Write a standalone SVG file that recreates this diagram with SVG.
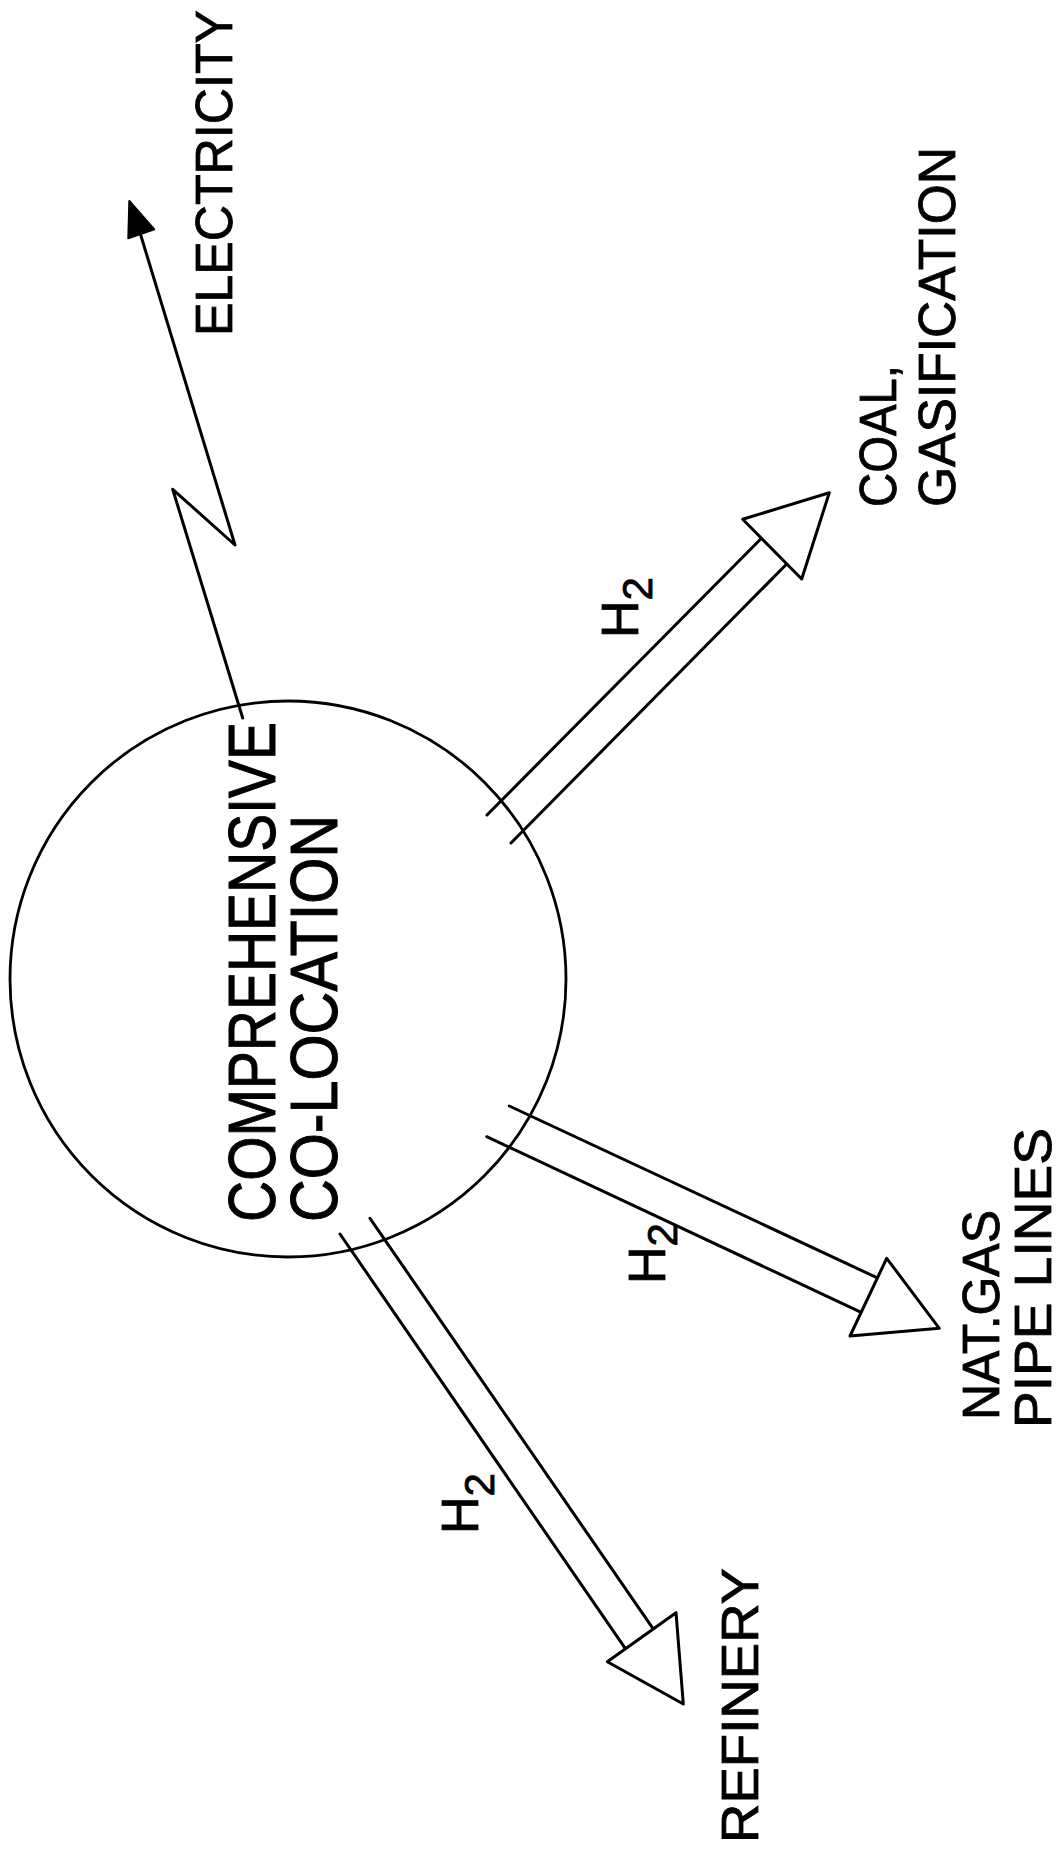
<svg xmlns="http://www.w3.org/2000/svg" width="1062" height="1852" viewBox="0 0 1062 1852">
  <style>
    .ln { fill: none; stroke: #000; stroke-width: 3; stroke-linecap: round; stroke-linejoin: round; }
    .head { fill: #fff; stroke: #000; stroke-width: 3; stroke-linejoin: round; }
    .solid { fill: #000; stroke: #000; stroke-width: 2; stroke-linejoin: round; }
    .lbl { font-family: "Liberation Sans", Arial, sans-serif; font-size: 52px; fill: #000; stroke: #000; stroke-width: 0.8; }
    .big { font-size: 67px; stroke-width: 1; }
    .sub { font-size: 42px; }
  </style>
  <rect width="1062" height="1852" fill="#fff"/>

  <!-- central node -->
  <g id="co-location">
    <circle cx="288" cy="979" r="278" fill="none" stroke="#000" stroke-width="2.8"/>
    <text class="lbl big" transform="translate(275,1222) rotate(-90)" textLength="500" lengthAdjust="spacingAndGlyphs">COMPREHENSIVE</text>
    <text class="lbl big" transform="translate(337,1222) rotate(-90)" textLength="407" lengthAdjust="spacingAndGlyphs">CO-LOCATION</text>
  </g>

  <!-- destinations -->
  <g id="electricity">
    <text class="lbl" style="font-size:51px" transform="translate(232,336) rotate(-90)" textLength="326" lengthAdjust="spacingAndGlyphs">ELECTRICITY</text>
  </g>
  <g id="coal-gasification">
    <text class="lbl" transform="translate(896,507) rotate(-90)" textLength="142" lengthAdjust="spacingAndGlyphs">COAL,</text>
    <text class="lbl" transform="translate(955,507) rotate(-90)" textLength="360" lengthAdjust="spacingAndGlyphs">GASIFICATION</text>
  </g>
  <g id="nat-gas-pipelines">
    <text class="lbl" transform="translate(999,1420) rotate(-90)" textLength="210" lengthAdjust="spacingAndGlyphs">NAT.GAS</text>
    <text class="lbl" transform="translate(1051,1428) rotate(-90)" textLength="300" lengthAdjust="spacingAndGlyphs">PIPE LINES</text>
  </g>
  <g id="refinery">
    <text class="lbl" transform="translate(758,1843) rotate(-90)" textLength="275" lengthAdjust="spacingAndGlyphs">REFINERY</text>
  </g>

  <!-- connectors -->
  <g id="connectors">
    <!-- electricity: zig-zag lightning line with solid head -->
    <g id="to-electricity">
      <polyline class="ln" points="242.7,718 172.7,489.3 235,545 141,236"/>
      <polygon class="solid" points="129.3,201 128.3,238.3 154.3,229.3"/>
    </g>
    <!-- hydrogen pipe to coal gasification -->
    <g id="to-coal">
      <line class="ln" x1="487" y1="815" x2="761.7" y2="538"/>
      <line class="ln" x1="511" y1="843" x2="786.7" y2="564"/>
      <polygon class="head" points="742.7,519.3 829.3,492.7 801.7,579"/>
      <text class="lbl" transform="translate(638,638) rotate(-90)">H<tspan class="sub" dy="14">2</tspan></text>
    </g>
    <!-- hydrogen pipe to natural gas pipelines -->
    <g id="to-natgas">
      <line class="ln" x1="509.3" y1="1106" x2="877.4" y2="1277.9"/>
      <line class="ln" x1="486.7" y1="1136.7" x2="861.2" y2="1312.3"/>
      <polygon class="head" points="886.7,1258.3 939.3,1328.3 850,1336"/>
      <text class="lbl" transform="translate(665,1284) rotate(-90)">H<tspan class="sub" dy="12">2</tspan></text>
    </g>
    <!-- hydrogen pipe to refinery -->
    <g id="to-refinery">
      <line class="ln" x1="340" y1="1234" x2="625.4" y2="1648.7"/>
      <line class="ln" x1="370" y1="1218.3" x2="653.2" y2="1628.9"/>
      <polygon class="head" points="607.3,1661.7 676,1612.7 683.3,1704"/>
      <text class="lbl" transform="translate(478,1534) rotate(-90)">H<tspan class="sub" dy="16">2</tspan></text>
    </g>
  </g>
</svg>
